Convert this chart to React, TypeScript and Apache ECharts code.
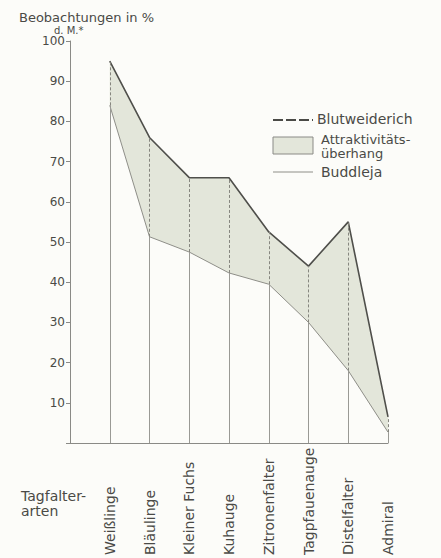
import React, { useEffect, useRef } from "react";
import * as echarts from "echarts";

const categories = [
  "Weißlinge",
  "Bläulinge",
  "Kleiner Fuchs",
  "Kuhauge",
  "Zitronenfalter",
  "Tagpfauenauge",
  "Distelfalter",
  "Admiral",
];
const blutweiderich = [95, 76, 66, 66, 52.5, 44, 55, 6.5];
const buddleja = [84, 51.3, 47.5, 42.3, 39.5, 30, 18, 2.7];

const FONT = "DejaVu Sans";
const TXT = "#4a4a46";
const FILL = "#e3e6da";

export default function App() {
  const ref = useRef<HTMLDivElement>(null);
  useEffect(() => {
    if (!ref.current) return;
    const chart = echarts.init(ref.current, undefined, { renderer: "svg" });
    const cats = ["", ...categories];
    const pad = (arr: number[]) => ["-", ...arr];
    const diff = blutweiderich.map((v, i) => +(v - buddleja[i]).toFixed(2));

    const solidLines = buddleja.map((v, i) => [
      { coord: [i + 1, 0] },
      { coord: [i + 1, v] },
    ]);
    const dashedLines = buddleja.map((v, i) => [
      { coord: [i + 1, v] },
      { coord: [i + 1, blutweiderich[i]] },
    ]);

    chart.setOption({
      animation: false,
      backgroundColor: "#fcfcf9",
      textStyle: { fontFamily: FONT },
      grid: { left: 70, right: 53, top: 41, bottom: 115, containLabel: false },
      xAxis: {
        type: "category",
        data: cats,
        boundaryGap: false,
        axisLine: { show: true, lineStyle: { color: "#8a8a86", width: 1 } },
        axisTick: { show: false },
        splitLine: { show: false },
        axisLabel: {
          interval: 0,
          rotate: 90,
          align: "left",
          verticalAlign: "middle",
          margin: 112,
          fontSize: 14,
          color: TXT,
          fontFamily: FONT,
          padding: [7, 0, 0, 0],
        },
      },
      yAxis: {
        type: "value",
        min: 0,
        max: 100,
        interval: 10,
        axisLine: { show: true, lineStyle: { color: "#8a8a86", width: 1 } },
        axisTick: { show: true, length: 4, lineStyle: { color: "#8a8a86" } },
        splitLine: { show: false },
        axisLabel: {
          fontSize: 12,
          color: TXT,
          margin: 5,
          fontFamily: FONT,
          formatter: (v: number) => (v === 0 ? "" : String(v)),
        },
      },
      series: [
        {
          type: "line",
          name: "base",
          stack: "band",
          data: pad(buddleja),
          symbol: "none",
          lineStyle: { opacity: 0 },
          silent: true,
          z: 1,
        },
        {
          type: "line",
          name: "Attraktivitätsüberhang",
          stack: "band",
          data: pad(diff),
          symbol: "none",
          lineStyle: { opacity: 0 },
          areaStyle: { color: FILL, opacity: 1 },
          silent: true,
          z: 1,
        },
        {
          type: "line",
          name: "verticals",
          data: [],
          symbol: "none",
          silent: true,
          z: 2,
          markLine: {
            silent: true,
            symbol: ["none", "none"],
            label: { show: false },
            lineStyle: { color: "#9a9a95", width: 1, type: "solid" },
            data: solidLines,
            animation: false,
          },
        },
        {
          type: "line",
          name: "verticalsDashed",
          data: [],
          symbol: "none",
          silent: true,
          z: 2,
          markLine: {
            silent: true,
            symbol: ["none", "none"],
            label: { show: false },
            lineStyle: { color: "#86867f", width: 1, type: [3, 2] },
            data: dashedLines,
            animation: false,
          },
        },
        {
          type: "line",
          name: "Buddleja",
          data: pad(buddleja),
          symbol: "none",
          lineStyle: { color: "#8e8e88", width: 1 },
          z: 3,
        },
        {
          type: "line",
          name: "Blutweiderich",
          data: pad(blutweiderich),
          symbol: "none",
          lineStyle: { color: "#4f4f4b", width: 1.6 },
          z: 4,
        },
      ],
      graphic: [
        {
          type: "text",
          left: 19,
          top: 11,
          style: { text: "Beobachtungen in %", fontSize: 13, fill: TXT, fontFamily: FONT },
        },
        {
          type: "text",
          left: 54,
          top: 25,
          style: { text: "d. M.*", fontSize: 10, fill: TXT, fontFamily: FONT },
        },
        {
          type: "text",
          left: 21,
          top: 488,
          style: {
            text: "Tagfalter-\narten",
            fontSize: 14,
            lineHeight: 15,
            fill: TXT,
            fontFamily: FONT,
          },
        },
        {
          type: "line",
          shape: { x1: 273, y1: 120, x2: 313, y2: 120 },
          style: { stroke: "#4a4a46", lineWidth: 2, lineDash: [10, 3] },
        },
        {
          type: "text",
          left: 317,
          top: 112,
          style: { text: "Blutweiderich", fontSize: 14, fill: TXT, fontFamily: FONT },
        },
        {
          type: "rect",
          shape: { x: 273, y: 137, width: 40, height: 17 },
          style: { fill: FILL, stroke: "#8a8a86", lineWidth: 1 },
        },
        {
          type: "text",
          left: 321,
          top: 132,
          style: {
            text: "Attraktivitäts-\nüberhang",
            fontSize: 13,
            lineHeight: 14,
            fill: TXT,
            fontFamily: FONT,
          },
        },
        {
          type: "line",
          shape: { x1: 273, y1: 172, x2: 313, y2: 172 },
          style: { stroke: "#8e8e88", lineWidth: 1 },
        },
        {
          type: "text",
          left: 321,
          top: 165,
          style: { text: "Buddleja", fontSize: 14, fill: TXT, fontFamily: FONT },
        },
      ],
    });
    return () => chart.dispose();
  }, []);
  return (
    <div
      ref={ref}
      style={{ position: "fixed", left: 0, top: 0, width: 441, height: 558 }}
    />
  );
}
